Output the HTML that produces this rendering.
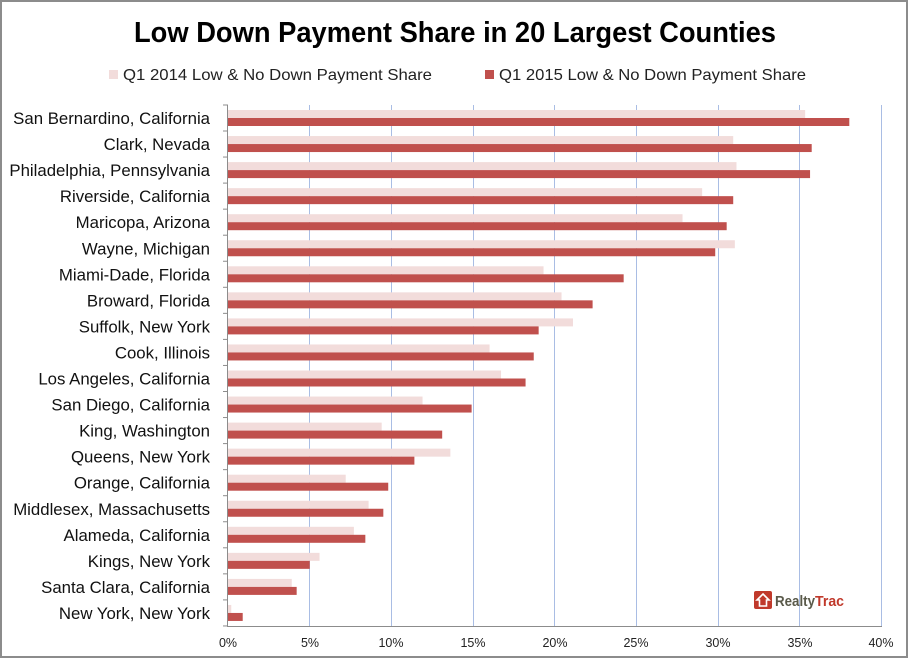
<!DOCTYPE html>
<html><head><meta charset="utf-8"><style>
html,body{margin:0;padding:0;background:#fff;}
svg{display:block;font-family:"Liberation Sans",sans-serif;}
</style></head><body>
<svg width="910" height="660" viewBox="0 0 910 660" xmlns="http://www.w3.org/2000/svg">
<rect x="1" y="1" width="906" height="656" fill="#fff" stroke="#8c8c8c" stroke-width="2"/>
<text x="455" y="42" text-anchor="middle" font-size="29" font-weight="bold" textLength="642" lengthAdjust="spacingAndGlyphs">Low Down Payment Share in 20 Largest Counties</text>
<rect x="109" y="70" width="9" height="9" fill="#f2dcdb"/>
<text x="123" y="80" font-size="16" textLength="309" lengthAdjust="spacingAndGlyphs" fill="#222">Q1 2014 Low &amp; No Down Payment Share</text>
<rect x="485" y="70" width="9" height="9" fill="#c0504d"/>
<text x="499" y="80" font-size="16" textLength="307" lengthAdjust="spacingAndGlyphs" fill="#222">Q1 2015 Low &amp; No Down Payment Share</text>
<g stroke="#a9bde4" stroke-width="1">
<line x1="309.5" y1="105" x2="309.5" y2="626"/><line x1="391.5" y1="105" x2="391.5" y2="626"/><line x1="473.5" y1="105" x2="473.5" y2="626"/><line x1="554.5" y1="105" x2="554.5" y2="626"/><line x1="636.5" y1="105" x2="636.5" y2="626"/><line x1="718.5" y1="105" x2="718.5" y2="626"/><line x1="799.5" y1="105" x2="799.5" y2="626"/><line x1="881.5" y1="105" x2="881.5" y2="626"/>
</g>
<g id="bars"></g>
<line x1="227.5" y1="105" x2="227.5" y2="626" stroke="#8c8c8c"/>
<line x1="227" y1="626.5" x2="882" y2="626.5" stroke="#8c8c8c"/>
<g id="labels" font-size="16.8" text-anchor="end" fill="#111"></g>
<g font-size="12.5" text-anchor="middle" fill="#222">
<text x="228" y="647">0%</text><text x="310" y="647">5%</text><text x="391" y="647">10%</text><text x="473" y="647">15%</text><text x="555" y="647">20%</text><text x="636" y="647">25%</text><text x="718" y="647">30%</text><text x="800" y="647">35%</text><text x="881" y="647">40%</text>
</g>
<rect x="754" y="591" width="18" height="18" rx="2" fill="#c0392b"/>
<path d="M763 594 L769 600 L766.5 600 L766.5 606 L759.5 606 L759.5 600 L757 600 Z" fill="none" stroke="#fff" stroke-width="1.6"/>
<text x="775" y="606" font-size="15" font-weight="bold" fill="#5a5a4a" textLength="40" lengthAdjust="spacingAndGlyphs">Realty</text>
<text x="815" y="606" font-size="15" font-weight="bold" fill="#c0392b" textLength="29" lengthAdjust="spacingAndGlyphs">Trac</text>
</svg>
<script>
var d=[["San Bernardino, California",35.3,38.0],["Clark, Nevada",30.9,35.7],["Philadelphia, Pennsylvania",31.1,35.6],["Riverside, California",29.0,30.9],["Maricopa, Arizona",27.8,30.5],["Wayne, Michigan",31.0,29.8],["Miami-Dade, Florida",19.3,24.2],["Broward, Florida",20.4,22.3],["Suffolk, New York",21.1,19.0],["Cook, Illinois",16.0,18.7],["Los Angeles, California",16.7,18.2],["San Diego, California",11.9,14.9],["King, Washington",9.4,13.1],["Queens, New York",13.6,11.4],["Orange, California",7.2,9.8],["Middlesex, Massachusetts",8.6,9.5],["Alameda, California",7.7,8.4],["Kings, New York",5.6,5.0],["Santa Clara, California",3.9,4.2],["New York, New York",0.2,0.9]];
var ns="http://www.w3.org/2000/svg",b=document.getElementById("bars"),l=document.getElementById("labels");
function mk(t,a,p){var e=document.createElementNS(ns,t);for(var k in a)e.setAttribute(k,a[k]);p.appendChild(e);return e;}
var x0=228,s=16.35;
d.forEach(function(r,i){var c=118+i*26.05;
mk("rect",{x:x0,y:c-8,width:r[1]*s,height:8,fill:"#f2dcdb"},b);
mk("rect",{x:x0,y:c,width:r[2]*s,height:8,fill:"#c0504d"},b);
mk("line",{x1:223,x2:228,y1:c+13,y2:c+13,stroke:"#8c8c8c"},b);
var t=mk("text",{x:210,y:c+6},l);t.textContent=r[0];});
mk("line",{x1:223,x2:228,y1:105,y2:105,stroke:"#8c8c8c"},b);
</script>
</body></html>
